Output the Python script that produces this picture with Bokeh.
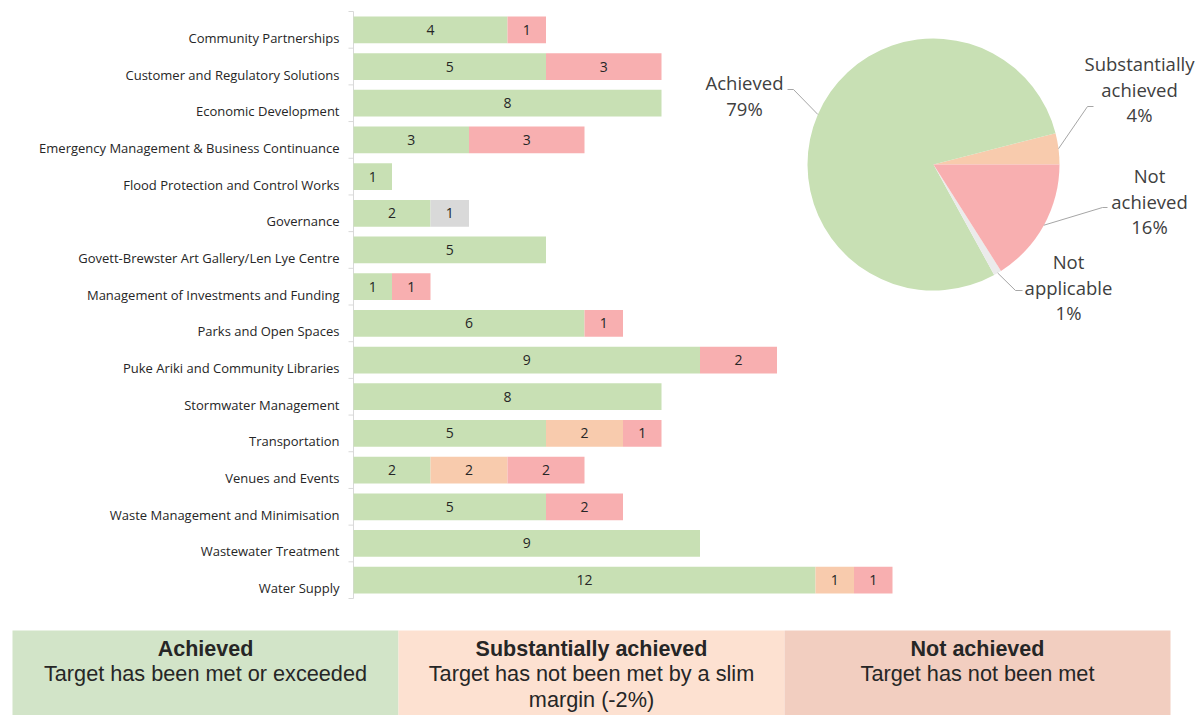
import math
from bokeh.plotting import figure
from bokeh.models import Range1d, ColumnDataSource
from bokeh.embed import file_html
from bokeh.resources import INLINE
from bokeh.core.properties import value

# ---------------- data ----------------
categories = [
    "Community Partnerships",
    "Customer and Regulatory Solutions",
    "Economic Development",
    "Emergency Management & Business Continuance",
    "Flood Protection and Control Works",
    "Governance",
    "Govett-Brewster Art Gallery/Len Lye Centre",
    "Management of Investments and Funding",
    "Parks and Open Spaces",
    "Puke Ariki and Community Libraries",
    "Stormwater Management",
    "Transportation",
    "Venues and Events",
    "Waste Management and Minimisation",
    "Wastewater Treatment",
    "Water Supply",
]
achieved       = [4, 5, 8, 3, 1, 2, 5, 1, 6, 9, 8, 5, 2, 5, 9, 12]
substantially  = [0, 0, 0, 0, 0, 0, 0, 0, 0, 0, 0, 2, 2, 0, 0, 1]
not_achieved   = [1, 3, 0, 3, 0, 0, 0, 1, 1, 2, 0, 1, 2, 2, 0, 1]
not_applicable = [0, 0, 0, 0, 0, 1, 0, 0, 0, 0, 0, 0, 0, 0, 0, 0]

# pie (percent), in anticlockwise order starting at 3 o'clock
pie_names  = ["Substantially achieved", "Achieved", "Not applicable", "Not achieved"]
pie_values = [4, 79, 1, 16]
pie_label_lines = [["Substantially", "achieved", "4%"], ["Achieved", "79%"],
                   ["Not", "applicable", "1%"], ["Not", "achieved", "16%"]]

legend_titles = ["Achieved", "Substantially achieved", "Not achieved"]
legend_lines = [["Target has been met or exceeded"],
                ["Target has not been met by a slim", "margin (-2%)"],
                ["Target has not been met"]]

# ---------------- styles / layout ----------------
C_ACH, C_SUB, C_NOT, C_NA = "#C8E0B4", "#F8CBAD", "#F8AFB0", "#D9D9D9"
PIE_COLORS = {"Achieved": C_ACH, "Substantially achieved": C_SUB,
              "Not achieved": C_NOT, "Not applicable": "#EBEBEB"}
LEG_COLORS = ["#D2E4C8", "#FDE1D1", "#F2CEC0"]
TXT = "#262626"
FONT = "Open Sans"

W, H = 1203, 715
AX_X, ROW_T, ROW_B = 353, 11, 598     # pixel position of value 0, top and bottom of rows
PX_PER_UNIT = 38.5
n = len(categories)
PITCH = (ROW_B - ROW_T) / n

p = figure(width=W, height=H,
           x_range=Range1d(-AX_X / PX_PER_UNIT, (W - AX_X) / PX_PER_UNIT),
           y_range=Range1d(-(H - ROW_B) / PITCH, n + ROW_T / PITCH),
           output_backend="svg", toolbar_location=None,
           x_axis_location=None, y_axis_location=None,
           min_border_left=0, min_border_right=0, min_border_top=0, min_border_bottom=0)
p.outline_line_color = None
p.xgrid.grid_line_color = None
p.ygrid.grid_line_color = None
p.background_fill_color = "white"
p.border_fill_color = "white"
p.extra_x_ranges = {"px": Range1d(0, W)}
p.extra_y_ranges = {"py": Range1d(0, H)}

def py(y_img):
    return H - y_img

# ---------------- bar chart ----------------
ypos = [n - i - 0.5 for i in range(n)]

# category axis: line, ticks at band boundaries, labels
p.segment(x0=[0], y0=[0], x1=[0], y1=[n], line_color="#D9D9D9", line_width=1)
tick_len = 5 / PX_PER_UNIT
p.segment(x0=[-tick_len] * (n + 1), y0=list(range(n + 1)), x1=[0] * (n + 1),
          y1=list(range(n + 1)), line_color="#D9D9D9", line_width=1)
p.text(x=[0] * n, y=ypos, text=categories, x_offset=-14, y_offset=8, text_font=value(FONT),
       text_font_size="13px", text_align="right", text_baseline="middle", text_color=TXT)

src = ColumnDataSource(dict(y=ypos, ach=achieved, sub=substantially,
                            nota=not_achieved, na=not_applicable))
p.hbar_stack(["ach", "sub", "nota", "na"], y="y", height=0.73, source=src,
             color=[C_ACH, C_SUB, C_NOT, C_NA], line_color=None)

lx, ly, lt = [], [], []
for i in range(n):
    left = 0
    for v in (achieved[i], substantially[i], not_achieved[i], not_applicable[i]):
        if v:
            lx.append(left + v / 2)
            ly.append(ypos[i])
            lt.append(str(v))
        left += v
p.text(x=lx, y=ly, text=lt, text_font=value(FONT), text_font_size="14px",
       text_align="center", text_baseline="middle", text_color=TXT)

# ---------------- pie ----------------
CX, CY, R = 933, 164, 126
total = sum(pie_values)
start = 0.0
mids = []
for name, v in zip(pie_names, pie_values):
    a0 = 2 * math.pi * start / total
    a1 = 2 * math.pi * (start + v) / total
    p.wedge(x=CX, y=py(CY), radius=R, radius_units="screen", start_angle=a0, end_angle=a1,
            fill_color=PIE_COLORS[name], line_color=None,
            x_range_name="px", y_range_name="py")
    mids.append((a0 + a1) / 2)
    start += v

# label layout: (elbow point, end point, centre x, first line y)
label_layout = {
    "Achieved": ((793, 89), (787, 89), 744, 82),
    "Substantially achieved": ((1087, 106), (1093, 106), 1139, 63),
    "Not achieved": ((1102, 207), (1107, 207), 1149, 175),
    "Not applicable": ((1015, 290), (1022, 290), 1068, 261),
}
for name, mid, lines in zip(pie_names, mids, pie_label_lines):
    (ex, ey), (tx, ty), lcx, ly0 = label_layout[name]
    sx = CX + R * math.cos(mid)
    sy = CY - R * math.sin(mid)
    p.line(x=[sx, ex, tx], y=[py(sy), py(ey), py(ty)], line_color="#A6A6A6", line_width=1,
           x_range_name="px", y_range_name="py")
    for k, t in enumerate(lines):
        p.text(x=[lcx], y=[py(ly0 + 25.5 * k)], text=[t], text_font=value(FONT),
               text_font_size="18.5px", text_align="center", text_baseline="middle",
               text_color="#404040", x_range_name="px", y_range_name="py")

# ---------------- bottom legend boxes ----------------
BOX_L, BOX_R, BOX_T, BOX_B = 12, 1170, 630, 715
k = len(legend_titles)
bw = (BOX_R - BOX_L) / k
lefts = [BOX_L + i * bw for i in range(k)]
p.quad(left=lefts, right=[l + bw for l in lefts], top=[py(BOX_T)] * k, bottom=[py(BOX_B)] * k,
       fill_color=LEG_COLORS, line_color=None, x_range_name="px", y_range_name="py")
p.text(x=[l + bw / 2 for l in lefts], y=[py(648)] * k, text=legend_titles,
       text_font=value("Liberation Sans"), text_font_style="bold", text_font_size="21.5px",
       text_align="center", text_baseline="middle", text_color=TXT,
       x_range_name="px", y_range_name="py")
for i, lines in enumerate(legend_lines):
    for j, t in enumerate(lines):
        p.text(x=[lefts[i] + bw / 2], y=[py(673 + 25.5 * j)], text=[t],
               text_font=value("Liberation Sans"), text_font_size="21.7px",
               text_align="center", text_baseline="middle", text_color=TXT,
               x_range_name="px", y_range_name="py")

open("out.html", "w").write(file_html(p, INLINE))
